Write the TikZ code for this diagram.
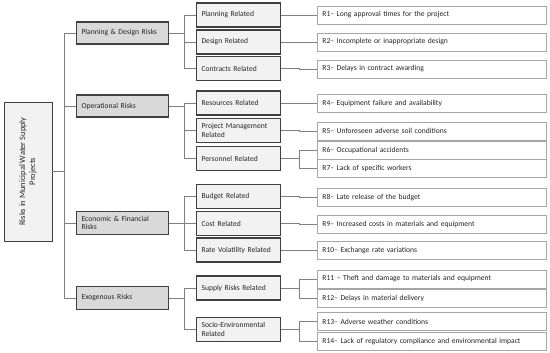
\documentclass[tikz,border=0pt]{standalone}
\usepackage{fontspec}
\setmainfont{Carlito}
\usepackage{tikz}
\usetikzlibrary{positioning, calc}
\definecolor{edge}{RGB}{64, 64, 64}
\definecolor{catfill}{RGB}{217, 217, 217}
\definecolor{subfill}{RGB}{242, 242, 242}
\definecolor{riskedge}{RGB}{166, 166, 166}
\definecolor{linkgray}{RGB}{127, 127, 127}
\definecolor{ink}{RGB}{38, 38, 38}

\begin{document}
\begin{tikzpicture}[x=1pt, y=-1pt,
    font=\fontsize{7.6}{8.6}\selectfont\color{ink},
    rootbox/.style={draw=edge, fill=subfill, line width=0.9pt, rotate=90,
      minimum width=139pt, minimum height=48pt, align=center,
      font=\fontsize{8.4}{10}\selectfont\color{ink}},
    catbox/.style={draw=edge, fill=catfill, line width=1.1pt, anchor=west,
      text width=82pt, inner xsep=5pt, minimum height=22pt, align=left},
    subbox/.style={draw=edge, fill=subfill, line width=1.1pt, anchor=west,
      text width=74pt, inner xsep=5pt, minimum height=24pt, align=left},
    riskbox/.style={draw=riskedge, fill=white, line width=0.8pt, anchor=west,
      text width=219pt, inner xsep=5pt, minimum height=18pt, align=left},
    link/.style={draw=linkgray, line width=0.7pt}]
  \useasboundingbox (0,0) rectangle (550,353);

  \node[rootbox] (root) at (28,171.5) {Risks in Municipal Water Supply\\Projects};

  % risk categories
  \node[catbox] (pd) at (76,33) {Planning \& Design Risks};
  \node[catbox] (op) at (76,106) {Operational Risks};
  \node[catbox, minimum height=23pt] (ef) at (76,223) {Economic \& Financial\\Risks};
  \node[catbox, minimum height=23pt] (ex) at (76,298) {Exogenous Risks};

  % sub-categories
  \foreach \n/\y/\t in {planning/15/Planning Related, design/42/Design Related,
      contracts/68.5/Contracts Related, resources/103/Resources Related,
      pm/130.5/Project Management\\Related, personnel/158.5/Personnel Related,
      budget/196.5/Budget Related, cost/223.5/Cost Related,
      rate/250/Rate Volatility Related, supply/288/Supply Risks Related,
      socio/329.5/Socio-Environmental\\Related}
    \node[subbox] (\n) at (196,\y) {\t};

  % individual risks
  \foreach \n/\y/\t in {r1/15/R1– Long approval times for the project,
      r2/42/R2– Incomplete or inappropriate design,
      r3/69/R3– Delays in contract awarding,
      r4/103.5/R4– Equipment failure and availability,
      r5/131/R5– Unforeseen adverse soil conditions,
      r6/150.5/R6– Occupational accidents,
      r7/168.5/R7– Lack of specific workers,
      r8/197.5/R8– Late release of the budget,
      r9/224/R9– Increased costs in materials and equipment,
      r10/250.5/R10– Exchange rate variations,
      r11/279/R11 – Theft and damage to materials and equipment,
      r12/298/R12– Delays in material delivery,
      r13/321.5/R13– Adverse weather conditions,
      r14/341.5/R14– Lack of regulatory compliance and environmental impact}
    \node[riskbox] (\n) at (317,\y) {\t};

  % root to categories
  \draw[link] (root.south) -- ++(12,0) coordinate (trunk);
  \foreach \c in {pd, op, ef, ex}
    \draw[link] (trunk) |- (\c.west);

  % categories to sub-categories
  \foreach \c/\kids in {pd/{planning,design,contracts}, op/{resources,pm,personnel},
      ef/{budget,cost,rate}, ex/{supply,socio}}{
    \draw[link] (\c.east) -- ++(15,0) coordinate (bus);
    \foreach \k in \kids
      \draw[link] (bus) |- (\k.west);
  }

  % sub-categories to risks
  \foreach \s/\risks in {planning/{r1}, design/{r2}, contracts/{r3}, resources/{r4},
      pm/{r5}, personnel/{r6,r7}, budget/{r8}, cost/{r9}, rate/{r10},
      supply/{r11,r12}, socio/{r13,r14}}{
    \draw[link] (\s.east) -- ++(18,0) coordinate (bus);
    \foreach \r in \risks
      \draw[link] (bus) |- (\r.west);
  }
\end{tikzpicture}
\end{document}
